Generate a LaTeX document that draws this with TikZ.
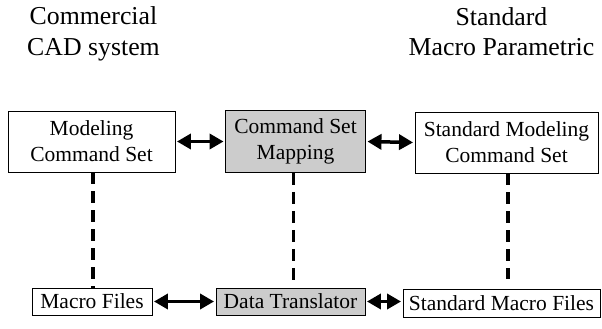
\documentclass[tikz,border=0pt]{standalone}
\usepackage{fontspec}
\setmainfont{Liberation Serif}
\usetikzlibrary{arrows.meta}
\begin{document}
\begin{tikzpicture}[x=1pt,y=-1pt,
  box/.style={draw=black, line width=0.9pt, fill=white, inner sep=0pt,
    align=center, font=\fontsize{21.5}{26}\selectfont},
  shaded/.style={box, fill=black!20},
  title/.style={align=center, inner sep=0pt, font=\fontsize{25.8}{30.5}\selectfont},
  link/.style={line width=3.5pt, shorten <=1.5pt, shorten >=1.5pt,
    {Triangle[length=14pt,width=15pt]}-{Triangle[length=14pt,width=15pt]}},
  dashlink/.style={line width=3.2pt, dash pattern=on 12pt off 7pt}]
\useasboundingbox (0,0) rectangle (602,329);

% column headings (base anchor sits on the last line)
\node[title, anchor=base] (h1) at (93.5,55.5) {Commercial\\CAD system};
\node[title, anchor=base] (h2) at (501.5,56) {Standard\\Macro Parametric};

% command-set layer
\node[box, minimum width=167pt, minimum height=61pt] (mcs) at (91.5,141.5) {Modeling\\Command Set};
\node[shaded, minimum width=140pt, minimum height=62pt] (map) at (295.5,141.5) {Command Set\\Mapping};
\node[box, minimum width=183pt, minimum height=61pt] (smcs) at (506.5,142.5) {Standard Modeling\\Command Set};

% file layer
\node[box, minimum width=120pt, minimum height=27pt] (mf) at (92,301.5) {Macro Files};
\node[shaded, minimum width=149pt, minimum height=27pt] (dt) at (290.5,301.5) {Data Translator};
\node[box, minimum width=197pt, minimum height=28pt] (smf) at (501.5,303) {Standard Macro Files};

% two-way links
\draw[link] (mcs.east) -- (map.west);
\draw[link] (map.east) -- (smcs.west);
\draw[link] (mf.east) -- (mf.east -| dt.west);
\draw[link] (dt.east) -- (dt.east -| smf.west);

% vertical correspondences
\draw[dashlink] ([xshift=1.5pt]mcs.south) -- ([xshift=1.5pt]mcs.south |- mf.north);
\draw[dashlink, shorten >=8pt] ([xshift=-2pt]map.south) -- ([xshift=-2pt]map.south |- dt.north);
\draw[dashlink, shorten >=10pt] ([xshift=1.5pt]smcs.south) -- ([xshift=1.5pt]smcs.south |- smf.north);
\end{tikzpicture}
\end{document}
